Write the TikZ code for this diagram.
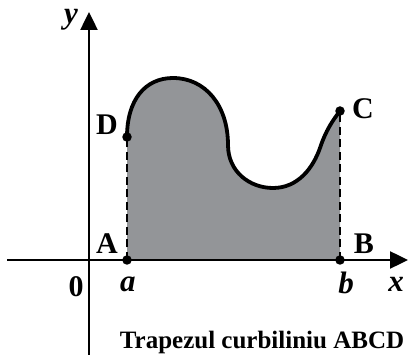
\documentclass[tikz,border=0pt]{standalone}
\usepackage{fontspec}
\setmainfont{Liberation Serif}
\usetikzlibrary{arrows.meta}
\definecolor{areagray}{HTML}{939598}
\tikzset{
  axis/.style={line width=2.5pt,-{Triangle[length=18pt,width=17pt]}},
  curve/.style={line width=3.8pt},
  bound/.style={line width=2.2pt,dash pattern=on 8pt off 4.5pt},
  pt/.style={circle,fill=black,inner sep=0pt,minimum size=9.5pt},
  ptlabel/.style={font=\fontsize{30}{30}\selectfont\bfseries,inner sep=0pt},
  axlabel/.style={font=\fontsize{31}{31}\selectfont\bfseries\itshape,inner sep=0pt},
}
\begin{document}
\begin{tikzpicture}[x=1pt,y=-1pt]
\useasboundingbox (0,0) rectangle (408,355);
\coordinate (A) at (127,260);
\coordinate (B) at (340,260);
\coordinate (C) at (340,111);
\coordinate (D) at (127,137);
\coordinate (xs) at (7,260);
\coordinate (xe) at (408,260);
\coordinate (ys) at (89,355);
\coordinate (ye) at (89,12);
% filled region
\fill[areagray] (A) -- (D) .. controls (127,100) and (145,78) .. (173,78)
  .. controls (205,78) and (228,105) .. (228,145)
  .. controls (228,172) and (250,188) .. (273,188)
  .. controls (298,188) and (313,168) .. (320,148)
  .. controls (326,130) and (333,120) .. (C) -- (B) -- cycle;
% curve
\draw[curve] (D) .. controls (127,100) and (145,78) .. (173,78)
  .. controls (205,78) and (228,105) .. (228,145)
  .. controls (228,172) and (250,188) .. (273,188)
  .. controls (298,188) and (313,168) .. (320,148)
  .. controls (326,130) and (333,120) .. (C);
% dashed boundaries
\draw[bound] (A) -- (D);
\draw[bound] (B) -- (C);
% axes
\draw[axis] (xs) -- (xe);
\draw[axis] (ys) -- (ye);
% points
\node[pt] (pA) at (A) {};
\node[pt] (pB) at (B) {};
\node[pt] (pC) at (C) {};
\node[pt] (pD) at (D) {};
% labels
\node[ptlabel] (lA) at (107,244) {A};
\node[ptlabel] (lB) at (364,244) {B};
\node[ptlabel] (lC) at (363,109) {C};
\node[ptlabel] (lD) at (107,125) {D};
\node[ptlabel] (l0) at (76,287) {0};
\node[axlabel] (la) at (128,284) {a};
\node[axlabel] (lb) at (346,283) {b};
\node[axlabel] (lx) at (396,284) {x};
\node[axlabel] (ly) at (71,20) {y};
\node[font=\fontsize{25}{25}\selectfont\bfseries,inner sep=0pt] (cap) at (262,342) {Trapezul curbiliniu ABCD};
\end{tikzpicture}
\end{document}
